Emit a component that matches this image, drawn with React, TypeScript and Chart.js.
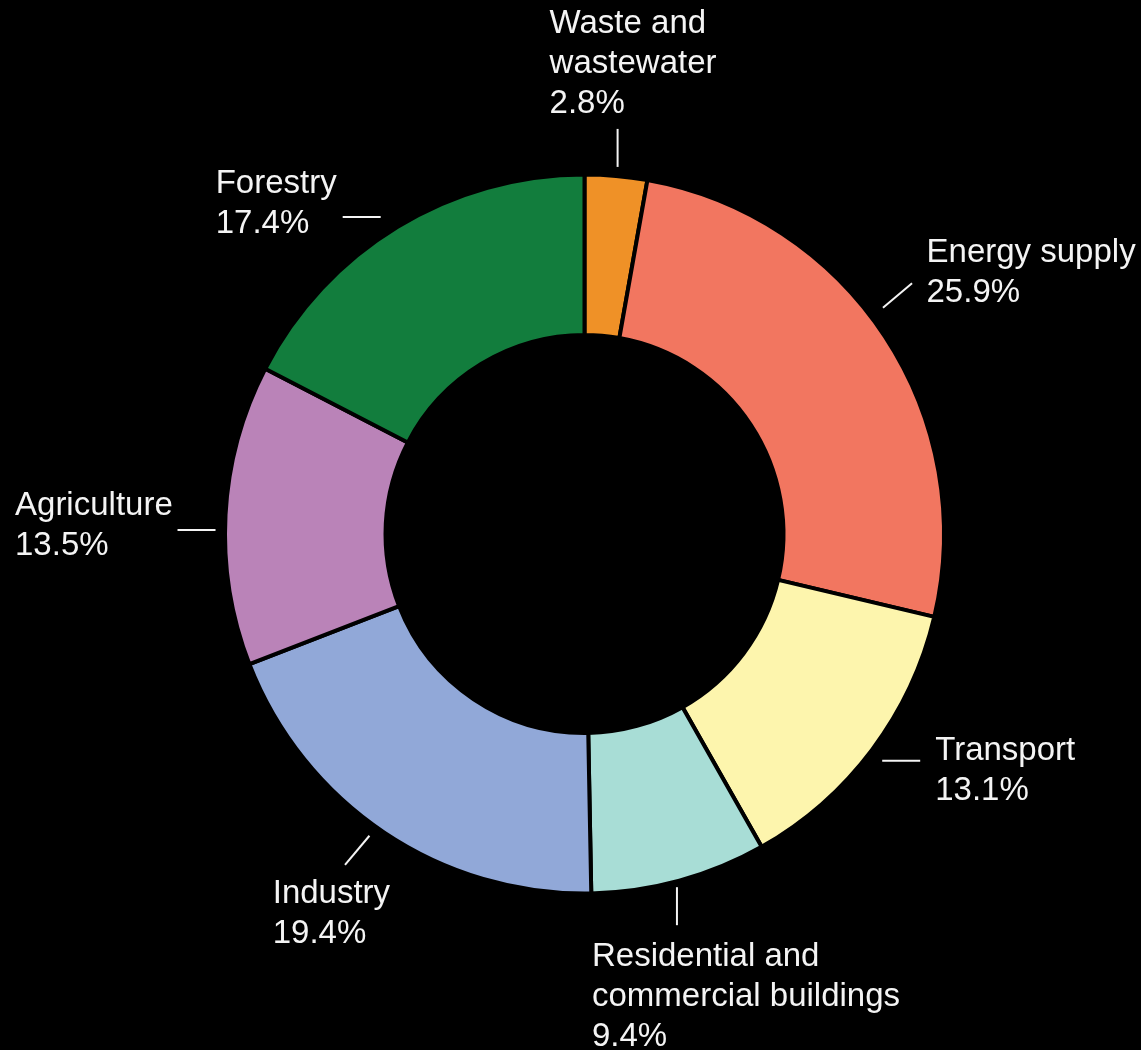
import React, { useEffect, useRef } from "react";
import { Chart, registerables } from "chart.js";

Chart.register(...registerables);

// ---- data ----
const categories: string[][] = [
  ["Waste and", "wastewater"],
  ["Energy supply"],
  ["Transport"],
  ["Residential and", "commercial buildings"],
  ["Industry"],
  ["Agriculture"],
  ["Forestry"],
];
const sliceValues: number[] = [2.8, 25.9, 13.1, 7.9, 19.4, 13.5, 17.4];
const percentLabels: string[] = ["2.8%", "25.9%", "13.1%", "9.4%", "19.4%", "13.5%", "17.4%"];
const sliceColors: string[] = [
  "#EF9127",
  "#F27660",
  "#FDF5AD",
  "#A8DDD6",
  "#91A8D8",
  "#BA83B8",
  "#127D3D",
];

// ---- label layout (style only) ----
// nudge: degrees added to slice mid-angle; rOff: px beyond outer radius;
// dir: leader direction (deg); dx/dy: text offset from leader centre (first baseline)
const labelLayout = [
  { nudge: -0.14, rOff: 28, dir: 90, dx: -68, dy: -115 },
  { nudge: -4.0, rOff: 34, dir: -40, dx: 29, dy: -33.5 },
  { nudge: -1.3, rOff: 30, dir: 0, dx: 34, dy: -1 },
  { nudge: 1.35, rOff: 24, dir: 90, dx: -85, dy: 59.5 },
  { nudge: 1.86, rOff: 30, dir: -50, dx: -84.5, dy: 53 },
  { nudge: -2.46, rOff: 28.5, dir: 0, dx: -181.5, dy: -15 },
  { nudge: -3.78, rOff: 28, dir: 0, dx: -146, dy: -24 },
];

const LINE_H = 40;
const FONT = '33px "Liberation Sans", Arial, sans-serif';

const labelPlugin = {
  id: "outerLabels",
  afterDraw(chart: any) {
    const ctx = chart.ctx as CanvasRenderingContext2D;
    const meta = chart.getDatasetMeta(0);
    ctx.save();
    ctx.font = FONT;
    ctx.fillStyle = "#F4F4F4";
    ctx.strokeStyle = "#F4F4F4";
    ctx.lineWidth = 2;
    ctx.textAlign = "left";
    ctx.textBaseline = "alphabetic";
    meta.data.forEach((arc: any, i: number) => {
      const p = arc.getProps(["x", "y", "startAngle", "endAngle", "outerRadius"], true);
      const lay = labelLayout[i];
      const mid = (p.startAngle + p.endAngle) / 2 + (lay.nudge * Math.PI) / 180;
      const r = p.outerRadius + lay.rOff;
      const cx = p.x + r * Math.cos(mid);
      const cy = p.y + r * Math.sin(mid);
      const d = (lay.dir * Math.PI) / 180;
      const half = 19;
      ctx.beginPath();
      ctx.moveTo(cx - half * Math.cos(d), cy - half * Math.sin(d));
      ctx.lineTo(cx + half * Math.cos(d), cy + half * Math.sin(d));
      ctx.stroke();
      const lines = [...categories[i], percentLabels[i]];
      lines.forEach((t, k) => {
        ctx.fillText(t, cx + lay.dx, cy + lay.dy + k * LINE_H);
      });
    });
    ctx.restore();
  },
};

export default function App() {
  const ref = useRef<HTMLCanvasElement | null>(null);
  useEffect(() => {
    if (!ref.current) return;
    const chart = new Chart(ref.current, {
      type: "doughnut",
      data: {
        labels: categories.map((c) => c.join(" ")),
        datasets: [
          {
            data: sliceValues,
            backgroundColor: sliceColors,
            borderColor: "#000000",
            borderWidth: 4,
            hoverBorderWidth: 4,
            radius: 359.5,
            cutout: "55.35%",
          } as any,
        ],
      },
      options: {
        responsive: false,
        animation: false,
        devicePixelRatio: 1,
        radius: 359.5,
        cutout: "55.35%",
        layout: { padding: { left: 28, top: 18, right: 0, bottom: 0 } },
        plugins: {
          legend: { display: false },
          tooltip: { enabled: false },
        },
        events: [],
      } as any,
      plugins: [labelPlugin],
    });
    return () => chart.destroy();
  }, []);
  return (
    <div
      style={{
        position: "fixed",
        left: 0,
        top: 0,
        width: 1141,
        height: 1050,
        background: "#000",
        overflow: "hidden",
      }}
    >
      <canvas ref={ref} width={1141} height={1050} style={{ display: "block" }} />
    </div>
  );
}
